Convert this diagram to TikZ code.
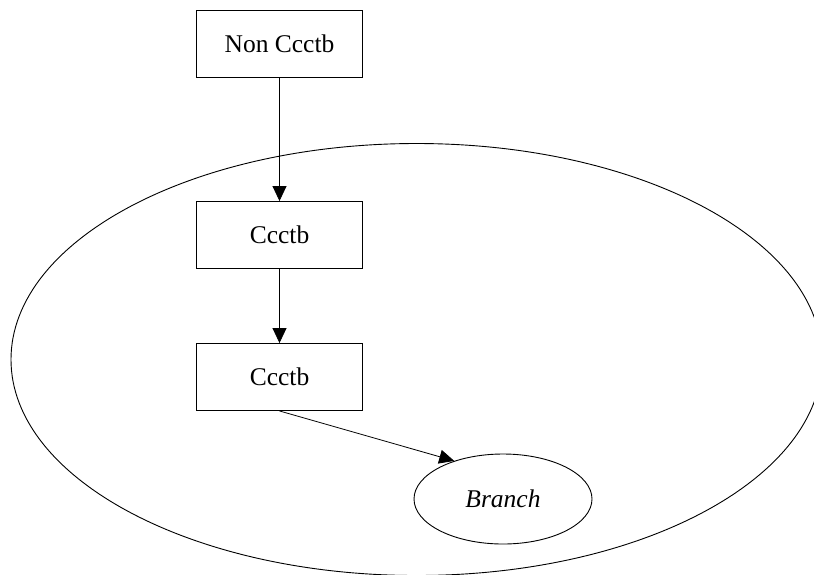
\documentclass[tikz,border=0pt]{standalone}
\usepackage{fontspec}
\setmainfont{Liberation Serif}
\usetikzlibrary{arrows.meta,shapes.geometric}
\begin{document}
\begin{tikzpicture}[x=1pt,y=-1pt,
  every node/.style={font=\fontsize{25.5}{28}\selectfont},
  box/.style={draw, line width=0.9pt, rectangle, minimum width=166pt, minimum height=67pt, inner sep=0pt},
  oval/.style={draw, line width=0.9pt, ellipse, minimum width=178pt, minimum height=90pt, inner sep=0pt},
  edge/.style={line width=0.8pt, -{Triangle[length=15pt,width=14pt]}}]
  \useasboundingbox (0,0) rectangle (814,574);
  \begin{scope}
    \clip (0,0) rectangle (814,574);
    % enclosing region
    \draw[line width=0.9pt] (416.5,359.5) ellipse [x radius=405.5, y radius=216];
  \end{scope}
  \node[box] (top) at (279.5,43.5) {Non Ccctb};
  \node[box] (c1) at (279.5,235) {Ccctb};
  \node[box] (c2) at (279.5,377) {Ccctb};
  \node[oval] (br) at (503,499) {\itshape Branch};
  \draw[edge] (top.south) -- (c1.north);
  \draw[edge] (c1.south) -- (c2.north);
  \draw[edge] (c2.south) -- (br.142);
\end{tikzpicture}
\end{document}
